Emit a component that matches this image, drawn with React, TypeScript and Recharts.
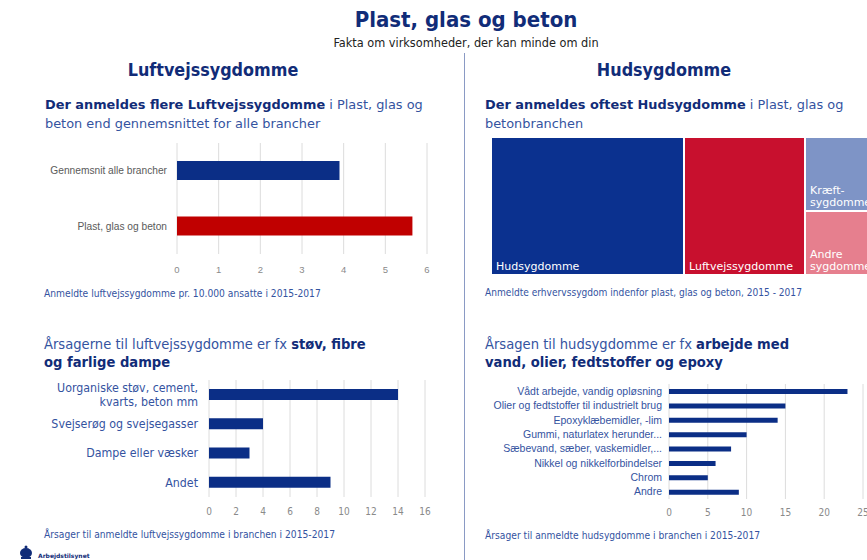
import React from 'react'
import { BarChart, Bar, XAxis, YAxis, CartesianGrid, Treemap } from 'recharts'

// chart 1: luftvejssygdomme pr. 10.000 ansatte
const compareLabels = ['Gennemsnit alle brancher', 'Plast, glas og beton']
const compareValues = [3.9, 5.65]
const compareTicks = [0, 1, 2, 3, 4, 5, 6]

// treemap: anmeldte erhvervssygdomme
const diseaseNames = ['Hudsygdomme', 'Luftvejssygdomme', 'Kræftsygdomme', 'Andre sygdomme']
const diseaseLabels = [['Hudsygdomme'], ['Luftvejssygdomme'], ['Kræft-', 'sygdomme'], ['Andre', 'sygdomme']]
const diseaseShares = [48, 30, 11.4, 10.1]

// chart 3: årsager til luftvejssygdomme
const airCauses = ['Uorganiske støv, cement,\nkvarts, beton mm', 'Svejserøg og svejsegasser', 'Dampe eller væsker', 'Andet']
const airCounts = [14, 4, 3, 9]
const airTicks = [0, 2, 4, 6, 8, 10, 12, 14, 16]

// chart 4: årsager til hudsygdomme
const skinCauses = [
    'Vådt arbejde, vandig opløsning',
    'Olier og fedtstoffer til industrielt brug',
    'Epoxyklæbemidler, -lim',
    'Gummi, naturlatex herunder...',
    'Sæbevand, sæber, vaskemidler,...',
    'Nikkel og nikkelforbindelser',
    'Chrom',
    'Andre',
]
const skinCounts = [23, 15, 14, 10, 8, 6, 5, 9]
const skinTicks = [0, 5, 10, 15, 20, 25]

const NAVY = '#0b2e86'
const RED = '#c00000'
const HEAD = '#112c78'
const SOFT = '#34539f'
const GRID = '#dcdcdc'
const diseaseColors = ['#0b318f', '#c8102e', '#7e94c6', '#e67f8e']

const compareData = compareLabels.map((name, i) => ({ name, value: compareValues[i], fill: i === 0 ? NAVY : RED }))
const diseaseData = diseaseNames.map((name, i) => ({ name, value: diseaseShares[i] }))
const airData = airCauses.map((name, i) => ({ name, value: airCounts[i] }))
const skinData = skinCauses.map((name, i) => ({ name, value: skinCounts[i] }))

const abs = (left: number, top: number, extra: React.CSSProperties = {}): React.CSSProperties => ({
    position: 'absolute',
    left,
    top,
    ...extra,
})

// y-axis tick that never auto-wraps, but splits on \n
const MultiTick = ({ x, y, payload, fontSize, color, family }: any) => {
    const lines = String(payload.value).split('\n')
    const lh = fontSize * 1.2
    const start = -((lines.length - 1) * lh) / 2
    return (
        <text x={x} y={y} textAnchor="end" fill={color} fontSize={fontSize} fontFamily={family}>
            {lines.map((l: string, i: number) => (
                <tspan key={i} x={x} dy={i === 0 ? start + fontSize * 0.35 : lh}>
                    {l}
                </tspan>
            ))}
        </text>
    )
}

const TreeCell = (props: any) => {
    const { x, y, width, height, depth, index } = props
    if (depth !== 1) return <g />
    const lines = diseaseLabels[index] || []
    const lh = 12.5
    return (
        <g>
            <rect x={x} y={y} width={width} height={height} fill={diseaseColors[index]} stroke="#fff" strokeWidth={2} />
            {lines.map((l, i) => (
                <text
                    key={i}
                    x={x + 5}
                    y={y + height - 5 - (lines.length - 1 - i) * lh}
                    fill="#fff"
                    fontSize={11}
                    fontFamily="DejaVu Sans"
                >
                    {l}
                </text>
            ))}
        </g>
    )
}

export default function App() {
    const sans = 'DejaVu Sans'
    const cond = 'DejaVu Sans Condensed'
    return (
        <div style={{ position: 'absolute', left: 0, top: 0, width: 867, height: 560, overflow: 'hidden', background: '#fff', fontFamily: sans }}>
            {/* titles */}
            <div style={abs(266, 6, { width: 400, textAlign: 'center', fontFamily: cond, fontWeight: 'bold', fontSize: 22, color: HEAD, lineHeight: '28px' })}>
                Plast, glas og beton
            </div>
            <div style={abs(266, 35, { width: 400, textAlign: 'center', fontFamily: cond, fontSize: 12.6, color: '#222', lineHeight: '16px' })}>
                Fakta om virksomheder, der kan minde om din
            </div>
            <div style={abs(464, 53, { width: 1, height: 520, background: '#8a9ac4' })} />
            <div style={abs(63, 58, { width: 300, textAlign: 'center', fontFamily: cond, fontWeight: 'bold', fontSize: 17.8, color: HEAD, lineHeight: '24px' })}>
                Luftvejssygdomme
            </div>
            <div style={abs(514, 58, { width: 300, textAlign: 'center', fontFamily: cond, fontWeight: 'bold', fontSize: 17.8, color: HEAD, lineHeight: '24px' })}>
                Hudsygdomme
            </div>

            {/* top left */}
            <div style={abs(45, 95, { width: 392, fontSize: 12.9, lineHeight: '19px', color: SOFT })}>
                <b style={{ color: HEAD }}>Der anmeldes flere Luftvejssygdomme</b> i Plast, glas og beton end gennemsnittet for alle brancher
            </div>
            <div style={abs(30, 138)}>
                <BarChart layout="vertical" width={410} height={141} data={compareData} margin={{ top: 5, right: 13, bottom: 0, left: 0 }}>
                    <CartesianGrid horizontal={false} stroke={GRID} />
                    <XAxis
                        type="number"
                        domain={[0, 6]}
                        ticks={compareTicks}
                        axisLine={false}
                        tickLine={false}
                        tickMargin={6}
                        height={25}
                        tick={{ fontSize: 9.5, fill: '#8a8a8a', fontFamily: 'Liberation Sans' }}
                    />
                    <YAxis
                        type="category"
                        dataKey="name"
                        width={147}
                        axisLine={false}
                        tickLine={false}
                        tickMargin={4}
                        interval={0}
                        tick={(p: any) => <MultiTick {...p} fontSize={10.2} color="#5a5a5a" family="Liberation Sans" />}
                    />
                    <Bar dataKey="value" barSize={19} isAnimationActive={false} />
                </BarChart>
            </div>
            <div style={abs(44, 286, { fontFamily: cond, fontSize: 10.2, color: SOFT, lineHeight: '16px' })}>
                Anmeldte luftvejssygdomme pr. 10.000 ansatte i 2015-2017
            </div>

            {/* top right */}
            <div style={abs(485, 95, { width: 380, fontSize: 12.9, lineHeight: '19px', color: SOFT })}>
                <b style={{ color: HEAD }}>Der anmeldes oftest Hudsygdomme</b> i Plast, glas og betonbranchen
            </div>
            <div style={abs(491, 137)}>
                <Treemap
                    width={400}
                    height={138}
                    data={diseaseData}
                    dataKey="value"
                    nameKey="name"
                    isAnimationActive={false}
                    content={(p: any) => <TreeCell {...p} />}
                />
            </div>
            <div style={abs(485, 285, { fontFamily: cond, fontSize: 10.1, color: SOFT, lineHeight: '16px' })}>
                Anmeldte erhvervssygdom indenfor plast, glas og beton, 2015 - 2017
            </div>

            {/* bottom left */}
            <div style={abs(44, 335, { width: 330, fontFamily: cond, fontSize: 14.6, lineHeight: '18px', color: SOFT })}>
                Årsagerne til luftvejssygdomme er fx <b style={{ color: HEAD }}>støv, fibre og farlige dampe</b>
            </div>
            <div style={abs(40, 375)}>
                <BarChart layout="vertical" width={400} height={147} data={airData} margin={{ top: 5, right: 15, bottom: 0, left: 0 }}>
                    <CartesianGrid horizontal={false} stroke={GRID} />
                    <XAxis
                        type="number"
                        domain={[0, 16]}
                        ticks={airTicks}
                        axisLine={false}
                        tickLine={false}
                        tickMargin={5}
                        height={25}
                        tick={{ fontSize: 10, fill: '#8a8a8a', fontFamily: cond }}
                    />
                    <YAxis
                        type="category"
                        dataKey="name"
                        width={169}
                        axisLine={false}
                        tickLine={false}
                        tickMargin={5}
                        interval={0}
                        tick={(p: any) => <MultiTick {...p} fontSize={12.3} color={SOFT} family={cond} />}
                    />
                    <Bar dataKey="value" fill={NAVY} barSize={11} isAnimationActive={false} />
                </BarChart>
            </div>
            <div style={abs(44, 527, { fontFamily: cond, fontSize: 10.2, color: SOFT, lineHeight: '16px' })}>
                Årsager til anmeldte luftvejssygdomme i branchen i 2015-2017
            </div>

            {/* bottom right */}
            <div style={abs(485, 335, { width: 335, fontFamily: cond, fontSize: 14.6, lineHeight: '18px', color: SOFT })}>
                Årsagen til hudsygdomme er fx <b style={{ color: HEAD }}>arbejde med vand, olier, fedtstoffer og epoxy</b>
            </div>
            <div style={abs(480, 378)}>
                <BarChart layout="vertical" width={400} height={146} data={skinData} margin={{ top: 6, right: 17, bottom: 0, left: 0 }}>
                    <CartesianGrid horizontal={false} stroke={GRID} />
                    <XAxis
                        type="number"
                        domain={[0, 25]}
                        ticks={skinTicks}
                        axisLine={false}
                        tickLine={false}
                        tickMargin={4}
                        height={25}
                        tick={{ fontSize: 10, fill: '#8a8a8a', fontFamily: cond }}
                    />
                    <YAxis
                        type="category"
                        dataKey="name"
                        width={189}
                        axisLine={false}
                        tickLine={false}
                        tickMargin={1}
                        interval={0}
                        tick={(p: any) => <MultiTick {...p} fontSize={10.5} color={SOFT} family="Liberation Sans" />}
                    />
                    <Bar dataKey="value" fill={NAVY} barSize={5} isAnimationActive={false} />
                </BarChart>
            </div>
            <div style={abs(485, 528, { fontFamily: cond, fontSize: 10.2, color: SOFT, lineHeight: '16px' })}>
                Årsager til anmeldte hudsygdomme i branchen i 2015-2017
            </div>

            {/* logo */}
            <svg style={abs(18, 544)} width={100} height={16}>
                <ellipse cx={8} cy={9} rx={6} ry={5} fill={HEAD} />
                <rect x={3} y={13} width={10} height={2} fill={HEAD} />
                <circle cx={8} cy={3} r={1.5} fill={HEAD} />
                <text x={20} y={14} fontSize={6} fontWeight="bold" fill={HEAD} fontFamily={sans}>
                    Arbejdstilsynet
                </text>
            </svg>
        </div>
    )
}
